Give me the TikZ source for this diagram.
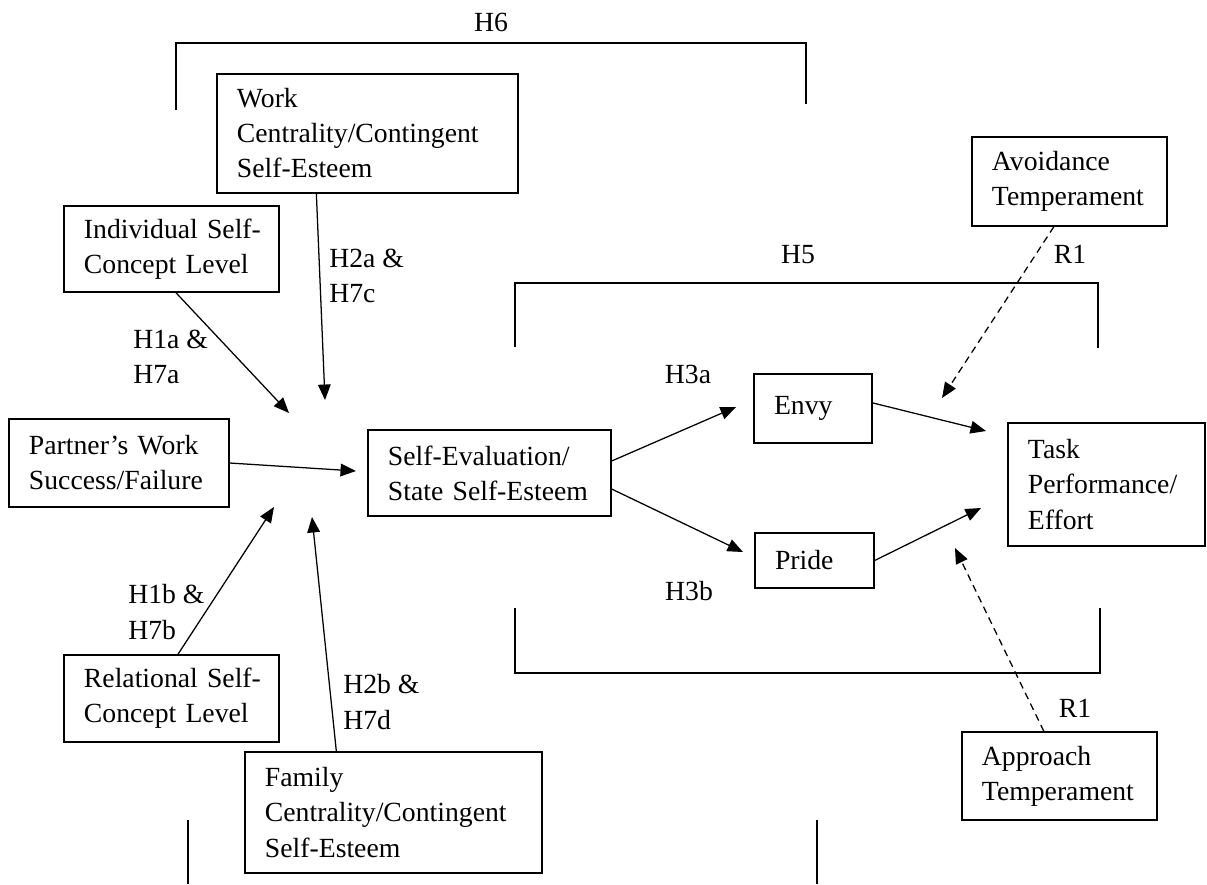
\documentclass[tikz,border=0pt]{standalone}
\usepackage{fontspec}
\setmainfont{Liberation Serif}
\usetikzlibrary{arrows.meta}
\hyphenpenalty=10000
\exhyphenpenalty=10000
\hbadness=10000
\hfuzz=20pt

\begin{document}
\begin{tikzpicture}[x=0.025cm,y=-0.025cm,
    every node/.style={font=\fontsize{19.7}{24.9}\selectfont},
    box/.style={draw,line width=0.9pt,rectangle,inner xsep=0.5cm,inner ysep=0pt,align=left},
    arr/.style={line width=0.9pt,-{Triangle[length=11pt,width=9pt]}},
    mod/.style={arr,dash pattern=on 5pt off 3.5pt},
    brk/.style={line width=0.9pt},
    lbl/.style={inner sep=0pt,align=left,anchor=west}]
  \useasboundingbox (0,0) rectangle (1207,884);

  % brackets H6 and H5
  \draw[brk] (176,110)--(176,43)--(806,43)--(806,104);
  \draw[brk] (188,820)--(188,884);
  \draw[brk] (817,820)--(817,884);
  \node (h6) at (491,22) {H6};
  \draw[brk] (515,347)--(515,283)--(1098,283)--(1098,348);
  \draw[brk] (515,608)--(515,673)--(1100,673)--(1100,608);
  \node (h5) at (798,255) {H5};

  % boxes
  \node[box,text width=6.525cm,minimum height=2.975cm] (work) at (367.5,133.5) {Work\\Centrality/Contingent\\Self-Esteem};
  \node[box,text width=4.375cm,minimum height=2.15cm] (indiv) at (171.5,249) {Individual~Self-\\Concept~Level};
  \node[box,text width=4.5cm,minimum height=2.2cm] (partner) at (119,463) {Partner’s~Work\\Success/Failure};
  \node[box,text width=5.075cm,minimum height=2.15cm] (selfeval) at (489.5,473) {Self-Evaluation/\\State~Self-Esteem};
  \node[box,text width=1.95cm,minimum height=1.725cm] (envy) at (813,408.5) {Envy};
  \node[box,text width=1.975cm,minimum height=1.375cm] (pride) at (814.5,560.5) {Pride};
  \node[box,text width=3.925cm,minimum height=3.075cm] (task) at (1106.5,484.5) {Task\\Performance/\\Effort};
  \node[box,text width=3.875cm,minimum height=2.225cm] (avoid) at (1069.5,181.5) {Avoidance\\Temperament};
  \node[box,text width=3.875cm,minimum height=2.2cm] (approach) at (1059.5,776) {Approach\\Temperament};
  \node[box,text width=4.375cm,minimum height=2.175cm] (relational) at (171.5,698.5) {Relational~Self-\\Concept~Level};
  \node[box,text width=6.425cm,minimum height=3.025cm] (family) at (393.5,812.5) {Family\\Centrality/Contingent\\Self-Esteem};

  % path labels
  \node[lbl] (l1a) at (133,357) {H1a \&\\H7a};
  \node[lbl] (l2a) at (329,276) {H2a \&\\H7c};
  \node[lbl] (l1b) at (128,612) {H1b \&\\H7b};
  \node[lbl] (l2b) at (343,702) {H2b \&\\H7d};
  \node (l3a) at (688,374) {H3a};
  \node (l3b) at (689,591) {H3b};
  \node (r1a) at (1070,254) {R1};
  \node (r1b) at (1075,708) {R1};

  % arrow tips
  \coordinate (hwork) at (325,400);
  \coordinate (hindiv) at (289,413);
  \coordinate (hpart) at (356,471);
  \coordinate (hrel) at (274,507);
  \coordinate (hfam) at (312,517);
  \coordinate (henvy) at (736,407);
  \coordinate (hpride) at (743,552);
  \coordinate (htaska) at (986,431);
  \coordinate (htaskb) at (981,508);
  \coordinate (havoid) at (942,398);
  \coordinate (happr) at (955,548);

  \draw[arr] ([xshift=2.5cm]work.south west) -- (hwork);
  \draw[arr] ([xshift=0.11cm]indiv.south) -- (hindiv);
  \draw[arr] (partner.east) -- (hpart);
  \draw[arr] ([xshift=0.16cm]relational.north) -- (hrel);
  \draw[arr] ([xshift=2.3cm]family.north west) -- (hfam);
  \draw[arr] ([yshift=0.3cm]selfeval.east) -- (henvy);
  \draw[arr] ([yshift=-0.4cm]selfeval.east) -- (hpride);
  \draw[arr] ([yshift=0.14cm]envy.east) -- (htaska);
  \draw[arr] (pride.east) -- (htaskb);
  \draw[mod] ([xshift=-0.39cm]avoid.south) -- (havoid);
  \draw[mod] ([xshift=-0.39cm]approach.north) -- (happr);
\end{tikzpicture}
\end{document}
